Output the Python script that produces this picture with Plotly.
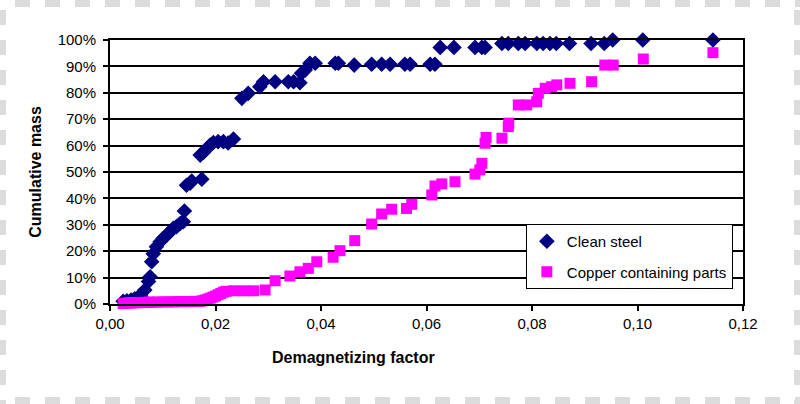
import plotly.graph_objects as go

# ---- data ----
steel_x = [0.0025, 0.0032, 0.0040, 0.0047, 0.0053, 0.0058, 0.0066, 0.0073, 0.0076, 0.0079,
           0.0082, 0.0088, 0.0095, 0.0101, 0.0107, 0.0114, 0.0120, 0.0126, 0.0133, 0.0139,
           0.0141, 0.0145, 0.0152, 0.0155, 0.0174, 0.0171, 0.0177, 0.0183, 0.0190, 0.0196,
           0.0205, 0.0215, 0.0224, 0.0234, 0.0250, 0.0262, 0.0284, 0.0291, 0.0313, 0.0338,
           0.0348, 0.0360, 0.0363, 0.0370, 0.0379, 0.0389, 0.0427, 0.0433, 0.0463, 0.0496,
           0.0515, 0.0531, 0.0559, 0.0569, 0.0607, 0.0616, 0.0626, 0.0652, 0.0692, 0.0705,
           0.0711, 0.0743, 0.0755, 0.0774, 0.0787, 0.0809, 0.0821, 0.0834, 0.0846, 0.0871,
           0.0912, 0.0937, 0.0953, 0.1010, 0.1143]
steel_y = [0.010, 0.012, 0.015, 0.020, 0.025, 0.030, 0.053, 0.085, 0.103, 0.160,
           0.190, 0.217, 0.236, 0.249, 0.260, 0.274, 0.287, 0.293, 0.305, 0.312,
           0.352, 0.450, 0.458, 0.466, 0.473, 0.564, 0.574, 0.587, 0.602, 0.612,
           0.615, 0.615, 0.610, 0.625, 0.779, 0.798, 0.823, 0.842, 0.842, 0.842,
           0.842, 0.838, 0.874, 0.886, 0.912, 0.912, 0.912, 0.912, 0.905, 0.908,
           0.908, 0.908, 0.908, 0.908, 0.908, 0.908, 0.972, 0.972, 0.972, 0.972,
           0.972, 0.987, 0.987, 0.987, 0.987, 0.987, 0.987, 0.987, 0.987, 0.987,
           0.987, 0.987, 1.000, 1.000, 1.000]

copper_x = [0.0025, 0.0030, 0.0035, 0.0040, 0.0045, 0.0050, 0.0055, 0.0060, 0.0065, 0.0070,
            0.0075, 0.0080, 0.0090, 0.0100, 0.0110, 0.0120, 0.0130, 0.0140, 0.0150, 0.0160,
            0.0170, 0.0175, 0.0180, 0.0185, 0.0190, 0.0195, 0.0200, 0.0205, 0.0210, 0.0215,
            0.0220, 0.0234, 0.0253, 0.0272, 0.0294, 0.0313, 0.0341, 0.0360, 0.0376, 0.0392,
            0.0423, 0.0436, 0.0464, 0.0496, 0.0515, 0.0534, 0.0562, 0.0572, 0.0610, 0.0616,
            0.0629, 0.0654, 0.0692, 0.0701, 0.0705, 0.0711, 0.0713, 0.0743, 0.0755, 0.0756,
            0.0774, 0.0790, 0.0809, 0.0812, 0.0825, 0.0837, 0.0847, 0.0872, 0.0913, 0.0938,
            0.0954, 0.1011, 0.1143]
copper_y = [0.002, 0.003, 0.004, 0.004, 0.005, 0.005, 0.005, 0.006, 0.006, 0.006,
            0.007, 0.007, 0.007, 0.008, 0.008, 0.008, 0.009, 0.009, 0.009, 0.010,
            0.010, 0.012, 0.015, 0.018, 0.022, 0.026, 0.030, 0.035, 0.040, 0.045,
            0.048, 0.050, 0.050, 0.050, 0.053, 0.088, 0.106, 0.122, 0.135, 0.160,
            0.177, 0.202, 0.240, 0.303, 0.341, 0.359, 0.362, 0.378, 0.413, 0.447,
            0.455, 0.463, 0.492, 0.508, 0.533, 0.609, 0.631, 0.628, 0.672, 0.685,
            0.754, 0.754, 0.766, 0.798, 0.817, 0.823, 0.830, 0.836, 0.842, 0.905,
            0.905, 0.928, 0.952]

x_ticks = [0, 0.02, 0.04, 0.06, 0.08, 0.10, 0.12]
y_ticks = [0, 0.1, 0.2, 0.3, 0.4, 0.5, 0.6, 0.7, 0.8, 0.9, 1.0]

FONT = "Liberation Sans, Arial, sans-serif"

fig = go.Figure()
fig.add_trace(go.Scatter(
    x=steel_x, y=steel_y, mode="markers", name="Clean steel",
    legendgroup="a",
    marker=dict(symbol="diamond", size=12, color="#000080", line=dict(width=0)),
    cliponaxis=False))
fig.add_trace(go.Scatter(
    x=copper_x, y=copper_y, mode="markers", name="Copper containing parts",
    legendgroup="b",
    marker=dict(symbol="square", size=11, color="#FF00FF", line=dict(width=0)),
    cliponaxis=False))

# checkerboard border (transparent-background pattern)
W, H = 800, 404
L, R, T, B = 110, 743, 40, 304
def px(x):
    return (x - L) / (R - L)
def py(y):
    return (B - y) / (B - T)
shapes = []
for sx in range(15, W, 30):
    shapes.append(dict(type="rect", xref="paper", yref="paper", x0=px(sx), x1=px(sx + 15),
                       y0=py(0), y1=py(7), fillcolor="#dcdcdc", line=dict(width=0), layer="below"))
    shapes.append(dict(type="rect", xref="paper", yref="paper", x0=px(sx), x1=px(sx + 15),
                       y0=py(397), y1=py(404), fillcolor="#dcdcdc", line=dict(width=0), layer="below"))
for sy in range(10, H, 30):
    shapes.append(dict(type="rect", xref="paper", yref="paper", x0=px(0), x1=px(6),
                       y0=py(sy), y1=py(sy + 15), fillcolor="#dcdcdc", line=dict(width=0), layer="below"))
    shapes.append(dict(type="rect", xref="paper", yref="paper", x0=px(794), x1=px(800),
                       y0=py(sy), y1=py(sy + 15), fillcolor="#dcdcdc", line=dict(width=0), layer="below"))

fig.update_layout(
    width=W, height=H,
    margin=dict(l=L, r=W - R, t=T, b=H - B),
    paper_bgcolor="white", plot_bgcolor="white",
    separators=", ",
    font=dict(family=FONT, size=15, color="black"),
    showlegend=True,
    legend=dict(x=0.984, y=0.303, xanchor="right", yanchor="top",
                bgcolor="white", bordercolor="black", borderwidth=1,
                font=dict(family=FONT, size=15, color="black"),
                itemwidth=30, tracegroupgap=8),
    shapes=shapes,
    xaxis=dict(range=[0, 0.12], tickvals=x_ticks, tickformat=".2f",
               showgrid=False, zeroline=False,
               showline=True, linecolor="black", linewidth=2, mirror=True,
               ticks="outside", ticklen=5, tickwidth=1.5, tickcolor="black",
               tickfont=dict(family=FONT, size=15)),
    yaxis=dict(range=[0, 1.0], tickvals=y_ticks, tickformat=".0%",
               showgrid=True, gridcolor="black", gridwidth=2, zeroline=False,
               showline=True, linecolor="black", linewidth=2, mirror=True,
               ticks="outside", ticklen=5, tickwidth=1.5, tickcolor="black",
               ticklabelstandoff=4,
               title=dict(text="<b>Cumulative mass</b>", font=dict(family=FONT, size=16),
                          standoff=12)),
    annotations=[dict(text="<b>Demagnetizing factor</b>", xref="paper", yref="paper",
                      x=px(353), y=py(357), xanchor="center", yanchor="middle",
                      showarrow=False, font=dict(family=FONT, size=16))],
)

fig.write_html("out.html", config={"displayModeBar": False},
               post_script="document.body.style.margin='0';document.body.style.padding='0';")
